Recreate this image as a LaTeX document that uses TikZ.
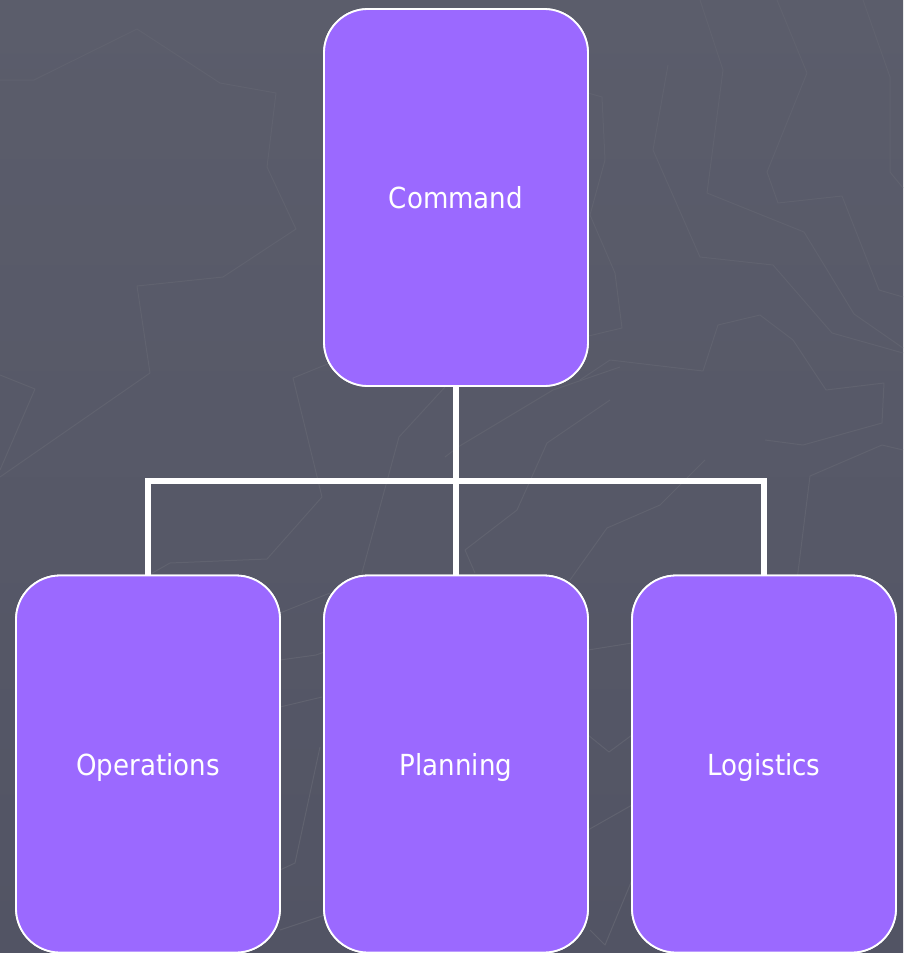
\documentclass[tikz,border=0pt]{standalone}
\usepackage{fontspec}
\setmainfont{DejaVu Sans Condensed}
\definecolor{bgtop}{HTML}{5B5D6B}
\definecolor{bgbot}{HTML}{525464}
\definecolor{bgline}{HTML}{60626F}
\definecolor{boxfill}{HTML}{9B69FF}
\tikzset{
  orgbox/.style={draw=white, line width=1.8pt, fill=boxfill, rounded corners=44pt,
    minimum width=264pt, minimum height=377pt, inner sep=0pt, text=white,
    text depth=0pt, font=\fontsize{29}{34}\selectfont},
  link/.style={draw=white, line width=6pt, line join=miter},
  pattern/.style={draw=bgline, line width=1pt, line join=round}
}
\begin{document}
\begin{tikzpicture}[x=1pt, y=-1pt]
\useasboundingbox (0,0) rectangle (903,953);
\shade[top color=bgtop, bottom color=bgbot] (0,0) rectangle (903,953);
% faint background pattern
\begin{scope}
\clip (0,0) rectangle (903,953);
\draw[pattern] (0,80) -- (34,80) -- (137,29) -- (220,83) -- (276,93) -- (267,167) -- (296,229) -- (223,277) -- (137,286) -- (150,373) -- (0,477);
\draw[pattern] (0,375) -- (35,389) -- (0,470);
\draw[pattern] (330,363) -- (293,378) -- (322,497) -- (267,559) -- (170,563) -- (140,580);
\draw[pattern] (445,387) -- (399,437) -- (360,580);
\draw[pattern] (445,457) -- (458,447) -- (553,390) -- (620,367);
\draw[pattern] (610,400) -- (547,443) -- (517,510) -- (465,550) -- (475,573);
\draw[pattern] (570,580) -- (607,528) -- (660,505) -- (705,460);
\draw[pattern] (700,0) -- (723,70) -- (707,193) -- (804,232) -- (854,314) -- (903,348);
\draw[pattern] (777,0) -- (807,73) -- (767,172) -- (778,203) -- (842,196) -- (879,290) -- (903,297);
\draw[pattern] (863,0) -- (890,77) -- (890,172) -- (903,188);
\draw[pattern] (668,65) -- (653,150) -- (700,257) -- (773,265) -- (832,333) -- (903,353);
\draw[pattern] (588,93) -- (602,97) -- (605,160) -- (590,215) -- (615,273) -- (622,328) -- (580,338);
\draw[pattern] (580,380) -- (610,360) -- (703,371) -- (718,325) -- (760,315) -- (793,340) -- (826,390) -- (884,383) -- (882,423) -- (803,445) -- (765,440);
\draw[pattern] (903,450) -- (882,445) -- (810,476) -- (797,580);
\draw[pattern] (280,613) -- (330,593);
\draw[pattern] (280,660) -- (316,655) -- (330,650);
\draw[pattern] (280,707) -- (322,697);
\draw[pattern] (320,747) -- (295,863) -- (280,870);
\draw[pattern] (280,930) -- (325,915);
\draw[pattern] (588,650) -- (632,643);
\draw[pattern] (588,735) -- (609,752) -- (632,735);
\draw[pattern] (588,830) -- (632,805);
\draw[pattern] (632,880) -- (605,945) -- (590,930);
\end{scope}
% boxes
\node[orgbox] (cmd) at (456,197.5) {Command};
\node[orgbox] (ops) at (148,764) {Operations};
\node[orgbox] (pln) at (456,764) {Planning};
\node[orgbox] (log) at (764,764) {Logistics};
% connectors
\coordinate (bus) at (456,481);
\draw[link] (cmd.south) -- (bus);
\draw[link] (bus) -| (ops.north);
\draw[link] (bus) -| (log.north);
\draw[link] (bus) -- (pln.north);
% redraw boxes over connector ends
\node[orgbox] at (cmd) {Command};
\node[orgbox] at (ops) {Operations};
\node[orgbox] at (pln) {Planning};
\node[orgbox] at (log) {Logistics};
\end{tikzpicture}
\end{document}
